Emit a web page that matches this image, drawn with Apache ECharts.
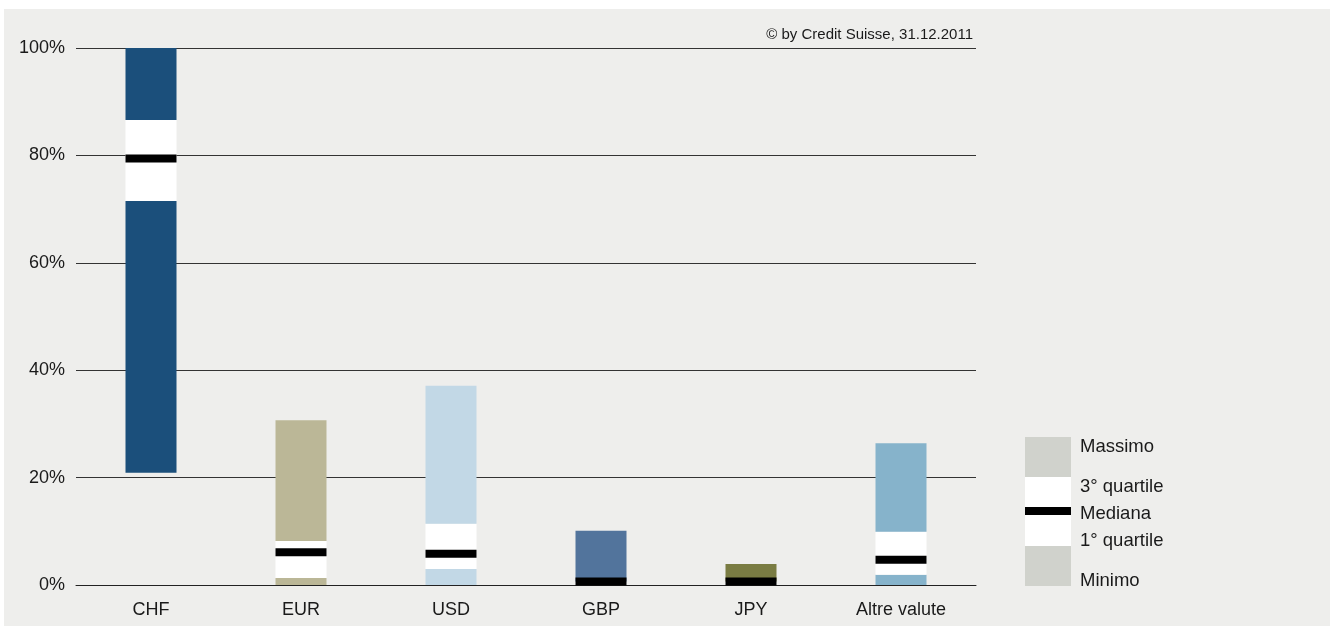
<!DOCTYPE html>
<html lang="it">
<head>
  <meta charset="UTF-8">
  <title>Quote valute</title>
  <style type="text/css">
    * {
      margin: 0;
      padding: 0;
    }
    html, body {
      width: 100%;
      height: 100%;
      overflow: hidden;
      background: #ffffff;
    }
    #main {
      position: absolute;
      left: 4px;
      top: 9px;
      width: 1326px;
      height: 617px;
      background: #eeeeec;
    }
  </style>
  <script type="text/javascript" src="https://cdn.jsdelivr.net/npm/echarts@6/dist/echarts.min.js"></script>
</head>
<body>
<div id="main"></div>
<script type="text/javascript">
  // valori in %
  var categorie = ['CHF', 'EUR', 'USD', 'GBP', 'JPY', 'Altre valute'];
  var minimo    = [20.9, 0,    0,    0,    0,    0];
  var quartile1 = [71.5, 1.3,  3.0,  0,    0,    1.9];
  var mediana   = [79.4, 6.1,  5.8,  0.65, 0.65, 4.7];
  var quartile3 = [86.6, 8.2,  11.4, 0.65, 0.65, 9.9];
  var massimo   = [100,  30.7, 37.1, 10.1, 3.9,  26.4];
  var colori    = ['#1b4f7b', '#bbb797', '#c2d8e6', '#52749c', '#7a7c43', '#86b3cb'];
  var tickY     = [0, 20, 40, 60, 80, 100];
  var voci      = ['Massimo', '3° quartile', 'Mediana', '1° quartile', 'Minimo'];

  var font = 'Liberation Sans, Arial, sans-serif';
  var testo = '#1a1a1a';

  function colorato(a, b) {
    var out = [];
    for (var i = 0; i < categorie.length; i++) {
      out.push({ value: +(b[i] - a[i]).toFixed(2), itemStyle: { color: colori[i] } });
    }
    return out;
  }
  function diff(a, b) {
    var out = [];
    for (var i = 0; i < categorie.length; i++) out.push(+(b[i] - a[i]).toFixed(2));
    return out;
  }

  var barW = 51;
  var myChart = echarts.init(document.getElementById('main'));

  var legenda = [
    { type: 'rect', shape: { x: 1021, y: 428, width: 46, height: 40 }, style: { fill: '#d0d2cc' } },
    { type: 'rect', shape: { x: 1021, y: 468, width: 46, height: 69 }, style: { fill: '#ffffff' } },
    { type: 'rect', shape: { x: 1021, y: 498, width: 46, height: 8 }, style: { fill: '#000000' } },
    { type: 'rect', shape: { x: 1021, y: 537, width: 46, height: 40 }, style: { fill: '#d0d2cc' } }
  ];
  var yVoci = [437, 477, 504, 531, 571];
  for (var k = 0; k < voci.length; k++) {
    legenda.push({
      type: 'text', left: 1076, top: yVoci[k] - 9,
      style: { text: voci[k], font: '18.5px ' + font, fill: testo }
    });
  }
  legenda.push({
    type: 'text', right: 1326 - 969, top: 18,
    style: { text: '© by Credit Suisse, 31.12.2011', font: '15px ' + font, fill: testo }
  });

  var option = {
    animation: false,
    backgroundColor: '#eeeeec',
    grid: { left: 72, top: 39, width: 900, height: 537, containLabel: false },
    xAxis: {
      type: 'category',
      data: categorie,
      axisLine: { lineStyle: { color: '#222', width: 1 } },
      axisTick: { length: 7, lineStyle: { color: '#222' } },
      axisLabel: { color: testo, fontSize: 18, fontFamily: font, margin: 16 }
    },
    yAxis: {
      type: 'value',
      min: tickY[0],
      max: tickY[tickY.length - 1],
      interval: 20,
      axisLine: { show: false },
      axisTick: { show: false },
      splitLine: { lineStyle: { color: '#333', width: 1 } },
      axisLabel: { color: testo, fontSize: 18, fontFamily: font, margin: 11, formatter: '{value}%' }
    },
    series: [
      { type: 'bar', stack: 'b', barWidth: barW, data: minimo, itemStyle: { color: 'transparent' }, silent: true },
      { type: 'bar', stack: 'b', barWidth: barW, data: colorato(minimo, quartile1) },
      { type: 'bar', stack: 'b', barWidth: barW, data: diff(quartile1, quartile3), itemStyle: { color: '#ffffff' } },
      { type: 'bar', stack: 'b', barWidth: barW, data: colorato(quartile3, massimo) },
      {
        type: 'scatter', data: mediana, symbol: 'rect', symbolSize: [barW, 8],
        itemStyle: { color: '#000000', opacity: 1 }, z: 5
      }
    ],
    graphic: legenda
  };

  myChart.setOption(option);
</script>
</body>
</html>
